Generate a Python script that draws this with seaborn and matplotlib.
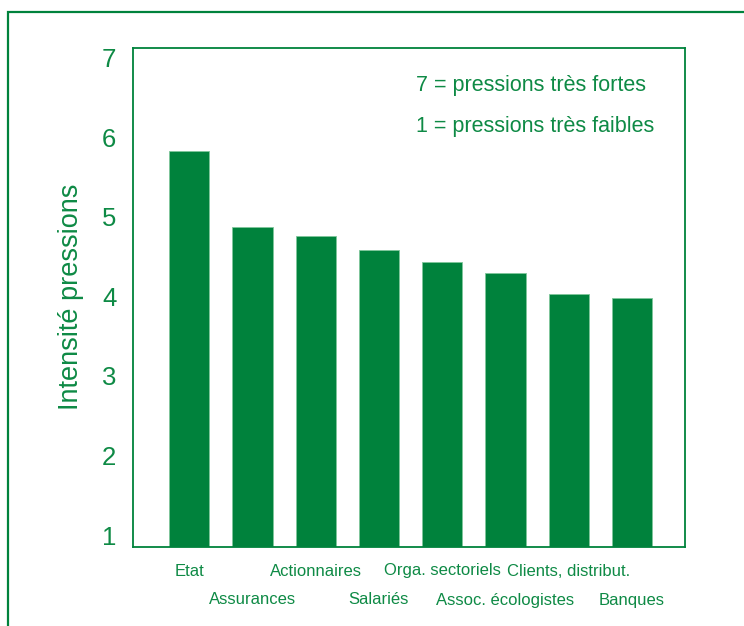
import matplotlib
matplotlib.use("Agg")
import matplotlib.pyplot as plt
import seaborn as sns
import pandas as pd
from matplotlib.patches import Rectangle

categories = ["Etat", "Assurances", "Actionnaires", "Salariés", "Orga. sectoriels",
              "Assoc. écologistes", "Clients, distribut.", "Banques"]
values = [5.83, 4.87, 4.76, 4.58, 4.43, 4.30, 4.03, 3.98]
yticks = [1, 2, 3, 4, 5, 6, 7]

GREEN = "#00823C"
TXT = "#0E8A45"

sns.set_theme(style="white")
plt.rcParams["font.family"] = ["Liberation Sans", "DejaVu Sans"]

fig = plt.figure(figsize=(7.44, 6.26), dpi=100)
W, H = 744, 626
# outer frame (extends past right and bottom edges)
fig.patches.append(Rectangle((8 / W, -0.05), (W - 8) / W + 0.05, (H - 12) / H + 0.05,
                             transform=fig.transFigure, fill=False,
                             edgecolor=GREEN, linewidth=1.6, clip_on=False))

ax = fig.add_axes([133 / W, 1 - 547 / H, (685 - 133) / W, (547 - 47.5) / H])
df = pd.DataFrame({"cat": categories, "val": values})
sns.barplot(data=df, x="cat", y="val", color=GREEN, saturation=1, width=0.635,
            edgecolor="#7fc79b", linewidth=0.6, ax=ax)

ax.set_ylim(0.85, 7.13)
ax.set_xlim(-0.89, 7.84)
ax.set_yticks(yticks)
ax.set_yticklabels([str(t) for t in yticks], fontsize=18.5, color=TXT)
ax.tick_params(axis="y", length=0, pad=12)
ax.tick_params(axis="x", length=0)
ax.set_xticks(range(len(categories)))
ax.set_xticklabels([])
for i, c in enumerate(categories):
    off = 24 if i % 2 == 0 else 53
    ax.annotate(c, xy=(i, 0), xycoords=("data", "axes fraction"),
                xytext=(0, -off), textcoords="offset pixels",
                ha="center", va="center", fontsize=12, color=TXT)
ax.set_xlabel("")
ax.set_ylabel("Intensité pressions", fontsize=19.5, color=TXT, labelpad=13)
for s in ax.spines.values():
    s.set_color(GREEN)
    s.set_linewidth(1.3)

ax.text(0.513, 0.923, "7 = pressions très fortes", transform=ax.transAxes,
        fontsize=15.5, color=TXT, ha="left", va="center")
ax.text(0.513, 0.842, "1 = pressions très faibles", transform=ax.transAxes,
        fontsize=15.5, color=TXT, ha="left", va="center")

fig.savefig("out.png", dpi=100)
